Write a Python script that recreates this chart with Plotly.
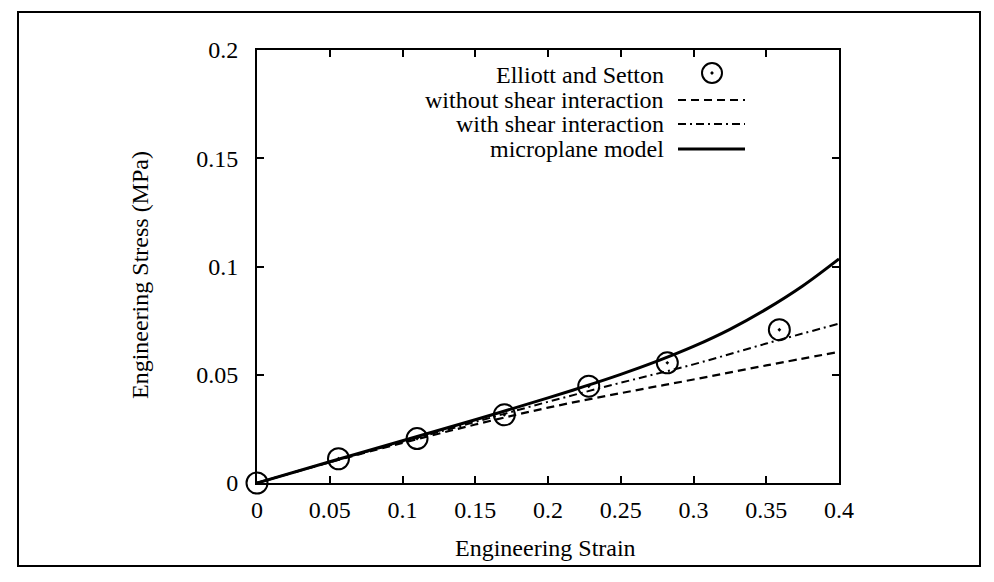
import plotly.graph_objects as go

# ---- data ----
strain_grid = [0.0, 0.05, 0.10, 0.15, 0.20, 0.25, 0.30, 0.35, 0.40]
micro_strain = [0.0, 0.05, 0.10, 0.15, 0.20, 0.225, 0.25, 0.275, 0.30, 0.325, 0.35, 0.375, 0.40]
microplane = [0.0, 0.0098, 0.0195, 0.0292, 0.0393, 0.0446, 0.0502, 0.0563, 0.0631,
              0.0710, 0.0803, 0.0910, 0.1035]
with_shear = [0.0, 0.0097, 0.0190, 0.0282, 0.0375, 0.0463, 0.0548, 0.0644, 0.0736]
without_shear = [0.0, 0.0096, 0.0185, 0.0270, 0.0348, 0.0415, 0.0478, 0.0543, 0.0606]

exp_strain = [0.0, 0.056, 0.110, 0.170, 0.228, 0.282, 0.359]
exp_stress = [0.0, 0.0112, 0.0205, 0.0315, 0.0447, 0.0555, 0.0708]

legend_labels = ["Elliott and Setton", "without shear interaction",
                 "with shear interaction", "microplane model"]

xticks = [0, 0.05, 0.1, 0.15, 0.2, 0.25, 0.3, 0.35, 0.4]
xticklabels = ["0", "0.05", "0.1", "0.15", "0.2", "0.25", "0.3", "0.35", "0.4"]
yticks = [0, 0.05, 0.1, 0.15, 0.2]
yticklabels = ["0", "0.05", "0.1", "0.15", "0.2"]

FONT = "Liberation Serif"
OFF = 8                      # page body margin
W, H = 994 - 2 * OFF, 582 - 2 * OFF
# plot area in page pixels
PL, PR, PT, PB = 257, 839, 50, 483
L, R, T, B = PL - OFF, PR - OFF, PT - OFF, PB - OFF


def px(x):
    return (x - OFF - L) / (R - L)


def py(y):
    return (B - (y - OFF)) / (B - T)


DASH = "8px,5px"
DASHDOT = "8px,4px,2px,4px"

fig = go.Figure()
fig.add_trace(go.Scatter(x=strain_grid, y=without_shear, mode="lines",
                         line=dict(color="black", width=2.2, dash=DASH, shape="spline"),
                         name=legend_labels[1], showlegend=False))
fig.add_trace(go.Scatter(x=strain_grid, y=with_shear, mode="lines",
                         line=dict(color="black", width=2, dash=DASHDOT, shape="spline"),
                         name=legend_labels[2], showlegend=False))
fig.add_trace(go.Scatter(x=micro_strain, y=microplane, mode="lines",
                         line=dict(color="black", width=3, shape="spline"),
                         name=legend_labels[3], showlegend=False))
fig.add_trace(go.Scatter(x=exp_strain, y=exp_stress, mode="markers",
                         marker=dict(symbol="circle-open-dot", size=21, color="black",
                                     line=dict(width=2, color="black")),
                         name=legend_labels[0], showlegend=False, cliponaxis=False))

# manual legend: text on the left, sample on the right
rows_y = [75, 100, 124, 149]
text_right = 666
samp_x0, samp_x1 = 678, 745
annotations = []
shapes = []
for lab, ry in zip(legend_labels, rows_y):
    annotations.append(dict(text=lab, x=px(text_right), y=py(ry), xref="paper", yref="paper",
                            xanchor="right", yanchor="middle", showarrow=False,
                            font=dict(family=FONT, size=24, color="black")))
fig.add_trace(go.Scatter(x=[px(712)], y=[py(73)], xaxis="x2", yaxis="y2", mode="markers",
                         marker=dict(symbol="circle-open-dot", size=20, color="black",
                                     line=dict(width=2, color="black")),
                         showlegend=False, hoverinfo="skip", cliponaxis=False))
dashes = [DASH, DASHDOT, "solid"]
widths = [2.2, 2, 3]
for ry, d, w in zip(rows_y[1:], dashes, widths):
    fig.add_trace(go.Scatter(x=[px(samp_x0), px(samp_x1)], y=[py(ry), py(ry)],
                             xaxis="x2", yaxis="y2", mode="lines",
                             line=dict(color="black", width=w, dash=d),
                             showlegend=False, hoverinfo="skip"))

# outer frame
shapes.append(dict(type="rect", xref="paper", yref="paper",
                   x0=px(18), x1=px(980), y0=py(566), y1=py(12),
                   line=dict(color="black", width=2)))

# axis titles
annotations.append(dict(text="Engineering Strain", x=px(545), y=py(548), xref="paper", yref="paper",
                        xanchor="center", yanchor="middle", showarrow=False,
                        font=dict(family=FONT, size=24, color="black")))
annotations.append(dict(text="Engineering Stress (MPa)", x=px(140), y=py(275), xref="paper", yref="paper",
                        xanchor="center", yanchor="middle", showarrow=False, textangle=-90,
                        font=dict(family=FONT, size=24, color="black")))

axis_common = dict(showgrid=False, zeroline=False, showline=True, linecolor="black",
                   linewidth=2, mirror="ticks", ticks="inside", ticklen=7, tickwidth=1.5,
                   tickcolor="black", tickfont=dict(family=FONT, size=24, color="black"))

fig.update_layout(
    width=W, height=H,
    margin=dict(l=L, r=W - R, t=T, b=H - B, pad=0),
    paper_bgcolor="white", plot_bgcolor="white",
    showlegend=False,
    xaxis=dict(range=[0, 0.4], tickvals=xticks, ticktext=xticklabels,
               ticklabelstandoff=4, **axis_common),
    yaxis=dict(range=[0, 0.2], tickvals=yticks, ticktext=yticklabels,
               ticklabelstandoff=12, **axis_common),
    xaxis2=dict(overlaying="x", range=[0, 1], visible=False, anchor="y2"),
    yaxis2=dict(overlaying="y", range=[0, 1], visible=False, anchor="x2"),
    annotations=annotations,
    shapes=shapes,
)

fig.write_html("out.html")
